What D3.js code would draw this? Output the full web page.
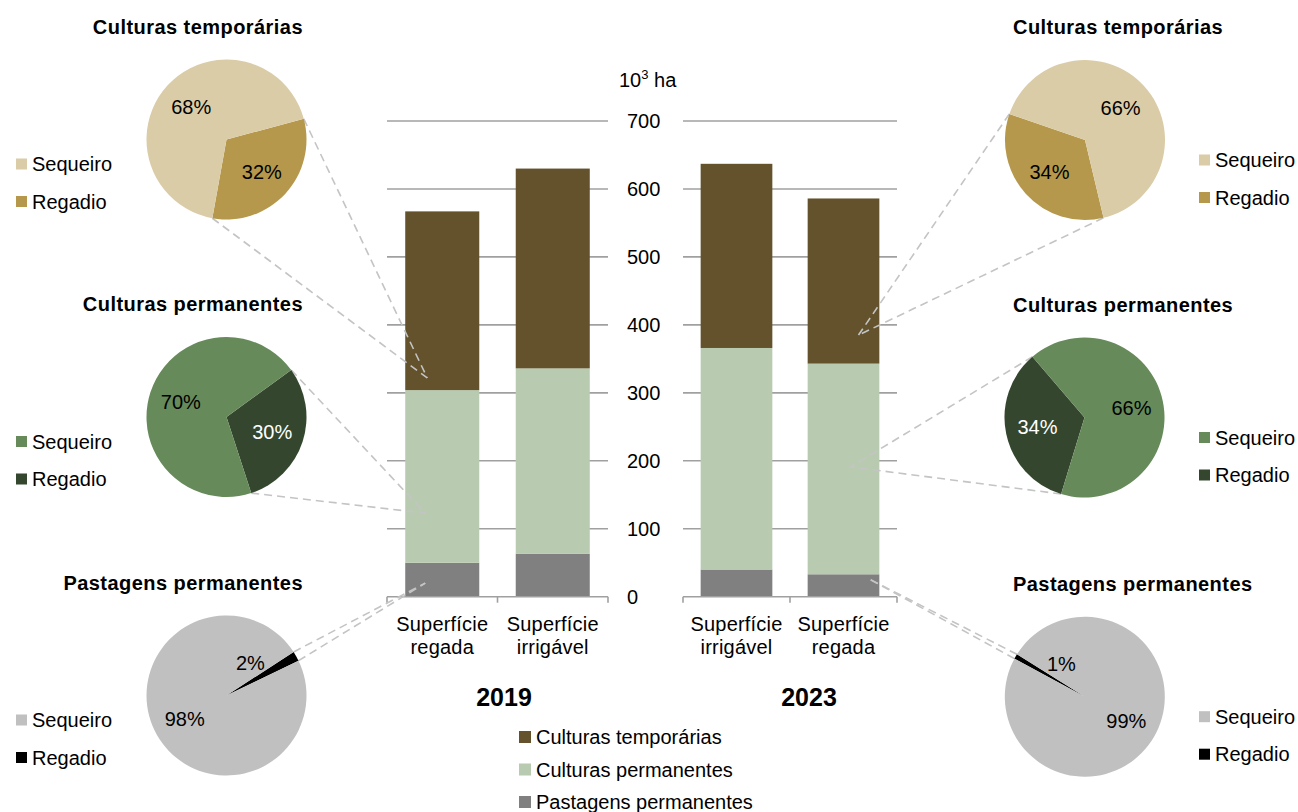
<!DOCTYPE html>
<html>
<head>
<meta charset="utf-8">
<script src="https://cdn.jsdelivr.net/npm/d3@7"></script>
<style>
  body { margin: 0; background: #fff; }
  text { font-family: "Liberation Sans", Arial, sans-serif; }
</style>
</head>
<body>
<script>
// bar data, 10^3 ha
const categories2019 = ["Superfície regada", "Superfície irrigável"];
const categories2023 = ["Superfície irrigável", "Superfície regada"];
const pastagens2019 = [50, 63];
const permanentes2019 = [254, 273];
const temporarias2019 = [263, 294];
const pastagens2023 = [40, 33];
const permanentes2023 = [326, 310];
const temporarias2023 = [271, 243];
const years = ["2019", "2023"];
const yTicks = [0, 100, 200, 300, 400, 500, 600, 700];
const seriesNames = ["Culturas temporárias", "Culturas permanentes", "Pastagens permanentes"];

// pie data, %
const pieTitles = ["Culturas temporárias", "Culturas permanentes", "Pastagens permanentes"];
const pieLegend = ["Sequeiro", "Regadio"];
const sequeiro2019 = [68, 70, 98];
const regadio2019 = [32, 30, 2];
const sequeiro2023 = [66, 66, 99];
const regadio2023 = [34, 34, 1];

const W = 1298, H = 812;
const colors = { temp: "#63522c", perm: "#b8cbb0", past: "#808080" };
const pieColors = [
  ["#dbcca8", "#b5984b"],
  ["#668a5a", "#34472e"],
  ["#c0c0c0", "#000000"]
];
const regLabelColor = ["#000", "#fff", "#000"];

const svg = d3.select("body").append("svg")
  .attr("width", W).attr("height", H)
  .style("background", "#fff");

const y = d3.scaleLinear().domain([0, 700]).range([596.7, 121]);

const panels = [
  { year: years[0], cats: categories2019, past: pastagens2019, perm: permanentes2019, temp: temporarias2019, x0: 387, x1: 608, yearX: 504 },
  { year: years[1], cats: categories2023, past: pastagens2023, perm: permanentes2023, temp: temporarias2023, x0: 683, x1: 897, yearX: 809 }
];

const stack = d3.stack().keys(["past", "perm", "temp"]);

panels.forEach(p => {
  p.x = d3.scaleBand().domain(p.cats).range([p.x0, p.x1]).paddingInner(0.33).paddingOuter(0.165);
  const g = svg.append("g");

  // gridlines
  g.selectAll("line.grid").data(yTicks.slice(1)).join("line")
    .attr("x1", p.x0).attr("x2", p.x1)
    .attr("y1", d => y(d)).attr("y2", d => y(d))
    .attr("stroke", "#a0a0a0").attr("stroke-width", 1.6);

  const rows = p.cats.map((c, i) => ({ cat: c, past: p.past[i], perm: p.perm[i], temp: p.temp[i] }));
  const series = stack(rows);
  g.selectAll("g.s").data(series).join("g")
    .attr("fill", d => colors[d.key])
    .selectAll("rect").data(d => d).join("rect")
    .attr("x", d => p.x(d.data.cat))
    .attr("width", p.x.bandwidth())
    .attr("y", d => y(d[1]))
    .attr("height", d => y(d[0]) - y(d[1]));

  // baseline and ticks between categories
  g.append("line").attr("x1", p.x0).attr("x2", p.x1)
    .attr("y1", y(0)).attr("y2", y(0))
    .attr("stroke", "#a0a0a0").attr("stroke-width", 1.6);
  const bounds = d3.range(p.cats.length + 1).map(i => p.x0 + (p.x1 - p.x0) / p.cats.length * i);
  g.selectAll("line.tk").data(bounds).join("line")
    .attr("x1", d => d).attr("x2", d => d)
    .attr("y1", y(0)).attr("y2", y(0) + 6)
    .attr("stroke", "#a0a0a0").attr("stroke-width", 1.6);

  // category labels
  const lbl = g.selectAll("text.cat").data(p.cats).join("text")
    .attr("text-anchor", "middle")
    .attr("font-size", 20)
    .attr("letter-spacing", 0.2)
    .attr("x", d => p.x(d) + p.x.bandwidth() / 2)
    .attr("y", 631);
  lbl.each(function (d) {
    const parts = d.split(" ");
    const t = d3.select(this);
    parts.forEach((w, i) => {
      t.append("tspan").attr("x", t.attr("x")).attr("dy", i === 0 ? 0 : 23).text(w);
    });
  });

  g.append("text").attr("text-anchor", "middle")
    .attr("x", p.yearX).attr("y", 706)
    .attr("font-size", 25).attr("font-weight", "bold")
    .text(p.year);
});

// y axis labels (between panels)
const yAxis = svg.append("g").attr("transform", "translate(627,0)")
  .call(d3.axisRight(y).tickValues(yTicks).tickSize(0).tickPadding(0));
yAxis.select(".domain").remove();
yAxis.selectAll("text").attr("font-size", 20).attr("fill", "#000")
  .attr("font-family", "Liberation Sans, Arial, sans-serif");

const unit = svg.append("text").attr("x", 619).attr("y", 87).attr("font-size", 20);
unit.append("tspan").text("10");
unit.append("tspan").attr("font-size", 13).attr("dy", -8).text("3");
unit.append("tspan").attr("dy", 8).text(" ha");

// bar legend
const bl = svg.append("g").selectAll("g").data(seriesNames).join("g")
  .attr("transform", (d, i) => `translate(519,${737 + i * 32.5})`);
bl.append("rect").attr("x", 0).attr("y", -6).attr("width", 12).attr("height", 12)
  .attr("fill", (d, i) => [colors.temp, colors.perm, colors.past][i]);
bl.append("text").attr("x", 17).attr("dy", "0.35em").attr("font-size", 20).text(d => d);

// pies
const R = 80;
const rad = a => a * Math.PI / 180;
const pieSets = [
  { seq: sequeiro2019, reg: regadio2019, side: "left", bar: panels[0], barCat: "Superfície regada",
    layout: [{ cx: 226.5, cy: 139.5, rot: 75, tdx: -15, tv: 322 },
             { cx: 226.5, cy: 417, rot: 54, tdx: -17, tv: 123 },
             { cx: 226.5, cy: 695.5, rot: 57, tdx: -17, tv: 20 }] },
  { seq: sequeiro2023, reg: regadio2023, side: "right", bar: panels[1], barCat: "Superfície regada",
    layout: [{ cx: 1085, cy: 140, rot: 166.6, tdx: 15, tv: 385 },
             { cx: 1084.5, cy: 417.5, rot: 197, tdx: 7, tv: 191 },
             { cx: 1084.8, cy: 696.7, rot: 298.4, tdx: 27, tv: 25 }] }
];

const arc = d3.arc().innerRadius(0).outerRadius(R);
const linesG = svg.append("g");
const piesG = svg.append("g");

pieSets.forEach(set => {
  set.layout.forEach((L, i) => {
    const vals = [set.reg[i], set.seq[i]];
    const pie = d3.pie().sort(null).value(d => d)
      .startAngle(rad(L.rot)).endAngle(rad(L.rot + 360));
    const arcs = pie(vals);
    const g = piesG.append("g").attr("transform", `translate(${L.cx},${L.cy})`);
    g.selectAll("path").data(arcs).join("path")
      .attr("d", arc)
      .attr("fill", (d, j) => pieColors[i][1 - j]);

    // labels
    g.selectAll("text").data(arcs).join("text")
      .attr("text-anchor", "middle").attr("dy", "0.35em").attr("font-size", 20)
      .attr("fill", (d, j) => j === 0 ? regLabelColor[i] : "#000")
      .attr("transform", d => {
        let a = (d.startAngle + d.endAngle) / 2;
        let r = 48;
        if (d.data < 5) {
          const norm = ((a % (2 * Math.PI)) + 2 * Math.PI) % (2 * Math.PI);
          a = norm < Math.PI ? norm - rad(24) : norm + rad(24);
          r = 40;
        }
        return `translate(${r * Math.sin(a)},${-r * Math.cos(a)})`;
      })
      .text(d => d.data + "%");

    // connector lines from regadio slice edges to the bar
    const reg = arcs[0];
    const tx = set.bar.x(set.barCat) + set.bar.x.bandwidth() / 2 + L.tdx;
    const ty = y(L.tv);
    [reg.startAngle, reg.endAngle].forEach(a => {
      linesG.append("line")
        .attr("x1", L.cx + R * Math.sin(a)).attr("y1", L.cy - R * Math.cos(a))
        .attr("x2", tx).attr("y2", ty)
        .attr("stroke", "#c4c4c4").attr("stroke-width", 1.6)
        .attr("stroke-dasharray", "8,5");
    });

    // title
    const left = set.side === "left";
    svg.append("text")
      .attr("x", left ? 303 : 1013).attr("y", L.cy - 106)
      .attr("text-anchor", left ? "end" : "start")
      .attr("font-size", 20).attr("font-weight", "bold")
      .attr("letter-spacing", 0.45)
      .text(pieTitles[i]);

    // legend
    const lg = svg.append("g").selectAll("g").data(pieLegend).join("g")
      .attr("transform", (d, j) => `translate(${left ? 16 : 1199},${L.cy + (left ? 24.5 : 20) + j * 37.5})`);
    lg.append("rect").attr("y", -5.5).attr("width", 11).attr("height", 11)
      .attr("fill", (d, j) => pieColors[i][j]);
    lg.append("text").attr("x", 16).attr("dy", "0.35em").attr("font-size", 20).text(d => d);
  });
});
</script>
</body>
</html>
